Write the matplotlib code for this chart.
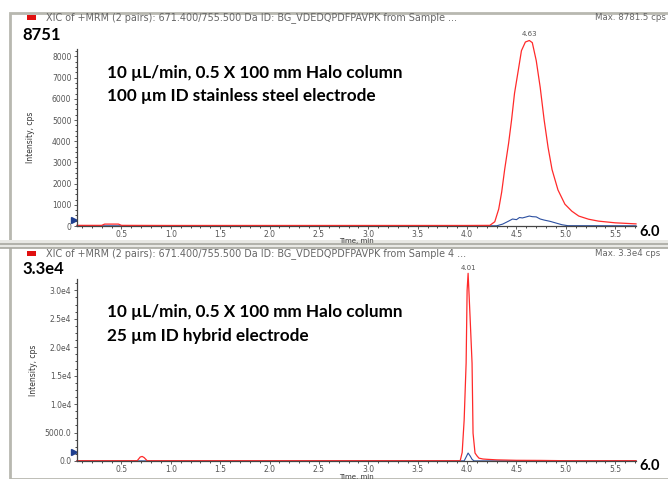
import matplotlib
matplotlib.use("Agg")
import matplotlib.pyplot as plt
from matplotlib.patches import Rectangle
from matplotlib.ticker import MultipleLocator, AutoMinorLocator, FixedFormatter

# top panel: 100 um stainless steel electrode
top_red_t = [0.05, 0.30, 0.33, 0.47, 0.50, 1.0, 2.0, 3.0, 4.0, 4.23, 4.28, 4.32, 4.35, 4.38,
             4.42, 4.45, 4.48, 4.52, 4.55, 4.59, 4.63, 4.66, 4.70, 4.74, 4.78, 4.82, 4.86,
             4.92, 4.99, 5.06, 5.13, 5.23, 5.33, 5.50, 5.71]
top_red_v = [30, 30, 90, 90, 30, 25, 25, 25, 25, 30, 200, 800, 1600, 2660,
             3900, 5000, 6260, 7400, 8270, 8680, 8751, 8650, 7800, 6540, 5000, 3700, 2660,
             1700, 1030, 700, 470, 320, 230, 150, 100]
top_blue_t = [0.05, 4.30, 4.36, 4.42, 4.46, 4.50, 4.53, 4.56, 4.60, 4.63, 4.66, 4.70,
              4.74, 4.78, 4.84, 4.90, 4.96, 5.02, 5.71]
top_blue_v = [10, 10, 90, 230, 330, 300, 400, 380, 430, 470, 440, 430,
              330, 280, 220, 140, 60, 15, 10]

# bottom panel: 25 um hybrid electrode
bot_red_t = [0.05, 0.66, 0.69, 0.71, 0.73, 0.76, 1.0, 2.0, 3.0, 3.93, 3.95, 3.97, 3.99,
             4.00, 4.01, 4.02, 4.03, 4.05, 4.06, 4.08, 4.10, 4.12, 4.16, 4.20, 4.30,
             4.50, 4.75, 5.00, 5.71]
bot_red_v = [50, 50, 700, 800, 600, 50, 50, 50, 50, 50, 1500, 7200, 17250,
             30000, 33000, 29200, 25300, 17200, 4900, 1400, 900, 500, 350, 300, 200,
             120, 100, 50, 50]
bot_blue_t = [0.05, 3.97, 3.99, 4.01, 4.03, 4.05, 4.07, 5.71]
bot_blue_v = [20, 20, 700, 1400, 900, 300, 20, 20]

top_yticks = [0, 1000, 2000, 3000, 4000, 5000, 6000, 7000, 8000]
bot_yticks = [0, 5000, 10000, 15000, 20000, 25000, 30000]
bot_ylabels = ["0.0", "5000.0", "1.0e4", "1.5e4", "2.0e4", "2.5e4", "3.0e4"]
xticks = [0.5, 1.0, 1.5, 2.0, 2.5, 3.0, 3.5, 4.0, 4.5, 5.0, 5.5]

title_txt = "XIC of +MRM (2 pairs): 671.400/755.500 Da ID: BG_VDEDQPDFPAVPK from Sample"
RED = "#ff2a2a"
BLUE = "#2b4fa0"
GRAY = "#555555"

W, H = 668, 479
fig = plt.figure(figsize=(W / 100, H / 100), dpi=100)


def P(x, y):
    return x / W, 1 - y / H


def add_axes(x0, y0, x1, y1):
    return fig.add_axes([x0 / W, 1 - y1 / H, (x1 - x0) / W, (y1 - y0) / H])


# panel frames (gray screenshot borders), kept behind the axes
for (y_top, y_bot) in [(13, 243), (246, 479)]:
    fig.add_artist(Rectangle(P(10, y_bot), 700 / W, (y_bot - y_top) / H, transform=fig.transFigure,
                             facecolor="white", edgecolor="#b8b8b0", lw=2.0, zorder=-2))
fig.add_artist(Rectangle(P(0, 248), 1, 8 / H, transform=fig.transFigure,
                         facecolor="#e8e8e4", edgecolor="none", zorder=-1))
for y in [243.5, 247.5]:
    fig.add_artist(plt.Line2D([0, 1], [1 - y / H] * 2, transform=fig.transFigure,
                              color="#a8a8a0", lw=1.2, zorder=-1))


def style(ax, top):
    ax.set_xlim(0.05, 5.71)
    ax.set_ylim(0, top)
    for s in ["top", "right"]:
        ax.spines[s].set_visible(False)
    for s in ["left", "bottom"]:
        ax.spines[s].set_color("#444444")
        ax.spines[s].set_linewidth(0.9)
    ax.set_xticks(xticks)
    ax.xaxis.set_minor_locator(MultipleLocator(0.1))
    ax.yaxis.set_minor_locator(AutoMinorLocator(4))
    ax.tick_params(labelsize=5.5, labelcolor=GRAY, colors="#444444", length=2.5, width=0.6, pad=1.5)
    ax.tick_params(axis="x", length=2, pad=1)
    ax.tick_params(which="minor", length=1.3, width=0.5)
    ax.set_facecolor("none")


# ---- top panel
ax1 = add_axes(77, 49, 636, 226)
style(ax1, 8350)
ax1.set_yticks(top_yticks)
ax1.plot(top_blue_t, top_blue_v, color=BLUE, lw=0.8, clip_on=False)
ax1.plot(top_red_t, top_red_v, color=RED, lw=0.9, clip_on=False)
ax1.set_ylabel("Intensity, cps", fontsize=5.5, color="#333333", labelpad=12)
ax1.plot([0.02], [300], marker=">", color="#1f3f8f", ms=4, clip_on=False)
fig.text(*P(356, 241.5), "Time, min", fontsize=5, color="#333333", ha="center", va="center")

# ---- bottom panel
ax2 = add_axes(77, 279, 636, 461)
style(ax2, 32000)
ax2.set_yticks(bot_yticks)
ax2.yaxis.set_major_formatter(FixedFormatter(bot_ylabels))
ax2.plot(bot_blue_t, bot_blue_v, color=BLUE, lw=0.8, clip_on=False)
ax2.plot(bot_red_t, bot_red_v, color=RED, lw=0.9, clip_on=False)
ax2.set_ylabel("Intensity, cps", fontsize=5.5, color="#333333", labelpad=5)
ax2.plot([0.02], [1600], marker=">", color="#1f3f8f", ms=4, clip_on=False)
# bottom "Time, min" sits at the picture's lower edge
fig.text(*P(356, 476.5), "Time, min", fontsize=5, color="#333333", ha="center", va="center")

# peak labels
ax1.text(4.63, 8751 + 150, "4.63", fontsize=5, color=GRAY, ha="center", va="bottom")
ax2.text(4.01, 33000 + 400, "4.01", fontsize=5, color=GRAY, ha="center", va="bottom")

# header texts
for y, extra, mx in [(18, " ...", "Max. 8781.5 cps"), (254, " 4 ...", "Max. 3.3e4 cps")]:
    fig.add_artist(Rectangle(P(27, y + 2), 9 / W, 5 / H, transform=fig.transFigure,
                             facecolor="#e01010", edgecolor="none"))
    fig.text(*P(46, y), title_txt + extra, fontsize=6.9, color="#666666", va="center")
    fig.text(*P(595, y), mx, fontsize=6.2, color="#666666", va="center")

# bold overlays
bold = dict(family=["Lato", "DejaVu Sans"], fontweight="bold", color="black")
fig.text(*P(22, 35), "8751", fontsize=12, va="center", **bold)
fig.text(*P(22, 269), "3.3e4", fontsize=12, va="center", **bold)
fig.text(*P(107, 73), "10 µL/min, 0.5 X 100 mm Halo column", fontsize=12.3, va="center", **bold)
fig.text(*P(107, 96), "100 µm ID stainless steel electrode", fontsize=12.3, va="center", **bold)
fig.text(*P(107, 312), "10 µL/min, 0.5 X 100 mm Halo column", fontsize=12.3, va="center", **bold)
fig.text(*P(107, 336), "25 µm ID hybrid electrode", fontsize=12.3, va="center", **bold)
fig.text(*P(639, 232), "6.0", fontsize=10.5, va="center", **bold)
fig.text(*P(639, 466), "6.0", fontsize=10.5, va="center", **bold)

fig.savefig("out.png", dpi=100)
